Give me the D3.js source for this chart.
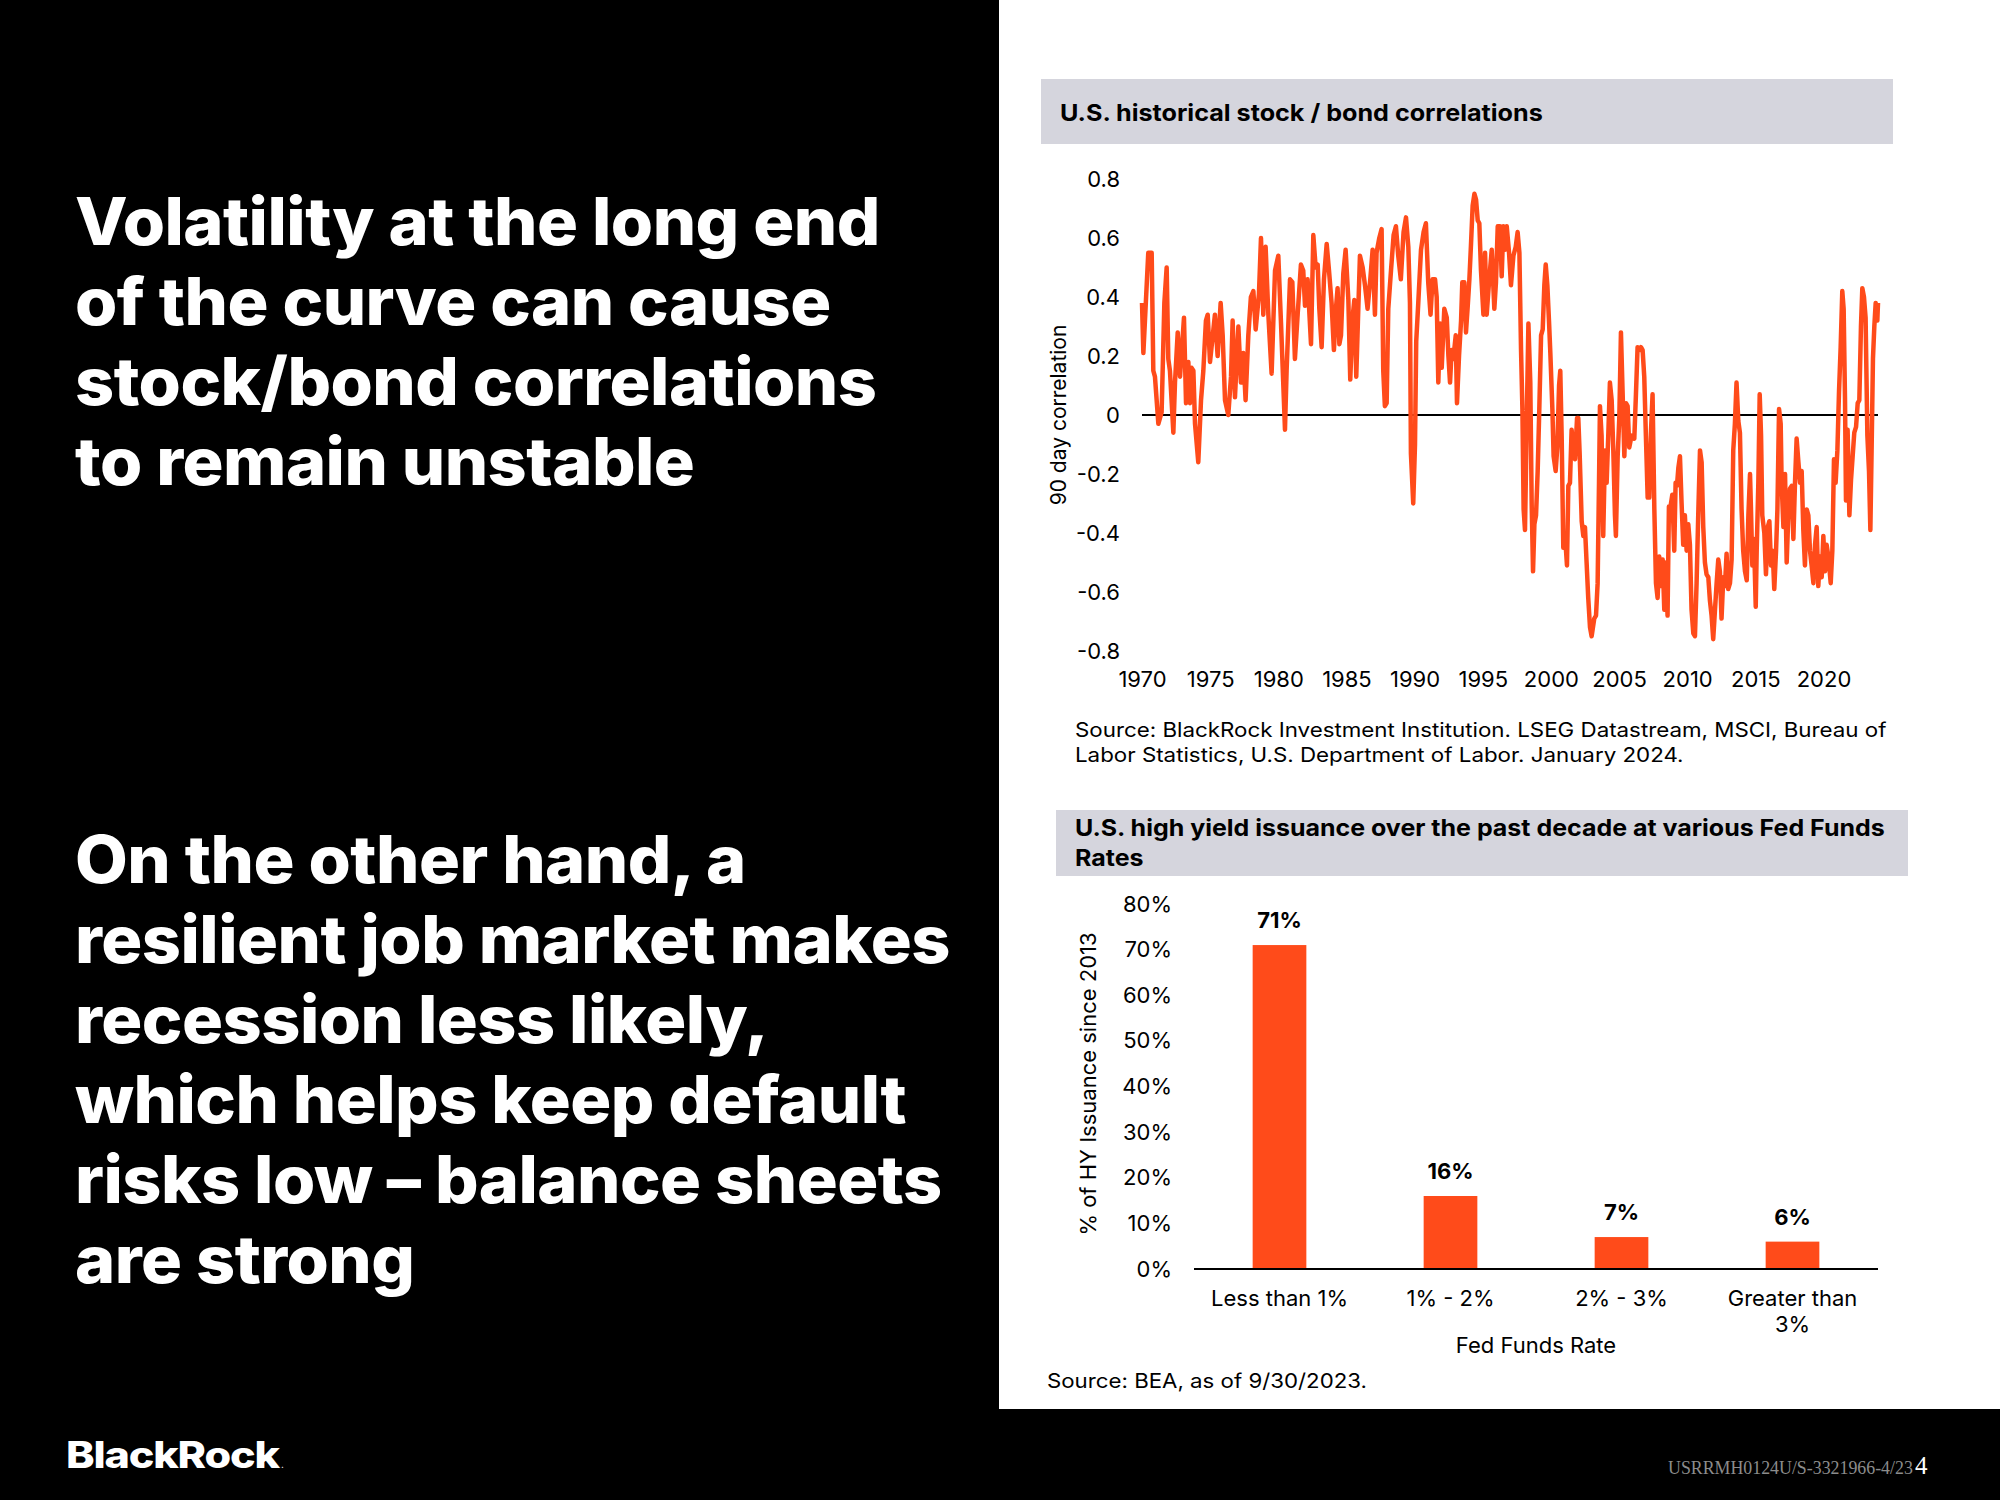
<!DOCTYPE html>
<html>
<head>
<meta charset="utf-8">
<script src="https://d3js.org/d3.v7.min.js"></script>
<style>
  body { margin: 0; background: #000; }
  svg { display: block; }
</style>
</head>
<body>
<svg id="slide" width="2000" height="1500"></svg>
<script>

// ---------- data: stock / bond 90 day correlation ----------
var corrYears = [
  1970.00,1970.10,1970.46,1970.71,1970.83,1970.95,1971.20,1971.44,1971.64,1971.81,1971.93,1972.05,1972.30,1972.42,1972.62,1972.79,
  1973.08,1973.23,1973.40,1973.52,1973.64,1973.77,1973.89,1974.13,1974.33,1974.50,1974.69,1974.82,1974.99,1975.35,1975.55,1975.77,
  1975.92,1976.09,1976.33,1976.53,1976.65,1976.82,1977.07,1977.26,1977.43,1977.60,1977.80,1977.99,1978.17,1978.34,1978.58,1978.73,
  1978.90,1979.07,1979.27,1979.51,1979.76,1980.00,1980.20,1980.49,
  1980.61,1980.86,1981.03,1981.22,1981.42,1981.66,1981.83,1981.96,1982.15,1982.40,1982.57,1982.74,1982.89,1983.01,1983.18,1983.35,
  1983.55,1983.72,1983.91,1984.08,1984.23,1984.35,1984.48,1984.60,1984.77,1984.94,1985.14,1985.28,1985.45,1985.58,1985.72,1985.87,
  1985.99,1986.19,1986.36,1986.55,1986.75,1986.92,1987.09,1987.21,1987.41,1987.58,1987.70,1987.82,1987.95,1988.07,1988.27,1988.46,
  1988.63,1988.80,1988.99,1989.19,1989.37,1989.54,1989.66,1989.73,1989.90,1990.03,1990.12,1990.27,1990.47,1990.66,1990.83,1991.00,
  1991.17,1991.32,
  1991.50,1991.62,1991.74,1991.87,1991.99,1992.18,1992.36,1992.48,1992.60,1992.72,1992.84,1993.02,1993.11,1993.26,1993.41,1993.50,
  1993.65,1993.77,1993.90,1994.02,1994.14,1994.26,1994.39,1994.51,1994.63,1994.75,1994.87,1995.05,1995.17,1995.29,1995.46,1995.66,
  1995.85,1995.97,1996.10,1996.27,1996.39,1996.51,1996.63,1996.76,1996.93,1997.07,1997.25,1997.42,1997.56,1997.69,1997.81,1997.91,
  1998.00,1998.10,1998.25,1998.35,1998.49,1998.59,1998.69,1998.79,1998.91,1999.03,1999.15,1999.28,1999.40,1999.52,1999.62,1999.74,
  1999.86,1999.96,2000.11,2000.20,2000.35,2000.47,2000.60,2000.69,2000.79,2000.91,2001.04,2001.18,2001.28,2001.40,2001.52,2001.65,
  2001.77,2001.92,2002.01,2002.11,2002.26,2002.38,
  2002.50,2002.62,2002.74,2002.87,2002.99,2003.18,2003.31,2003.43,2003.53,2003.60,2003.72,2003.84,2003.97,2004.09,2004.21,2004.33,
  2004.46,2004.58,2004.70,2004.77,2004.90,2005.02,2005.14,2005.26,2005.39,2005.51,2005.63,2005.75,2005.92,2006.12,2006.24,2006.36,
  2006.49,2006.61,2006.73,2006.85,2006.97,2007.10,2007.22,2007.34,2007.46,2007.59,2007.71,2007.83,2007.95,2008.07,2008.20,2008.32,
  2008.44,2008.56,2008.66,2008.78,2008.91,2009.05,2009.15,2009.25,2009.35,2009.47,2009.59,2009.71,2009.83,2009.96,2010.08,2010.20,
  2010.32,2010.45,2010.57,2010.69,2010.81,2010.94,2011.06,2011.18,2011.30,2011.42,2011.55,2011.67,2011.79,2011.91,2012.04,2012.16,
  2012.28,2012.40,2012.52,2012.65,2012.77,2012.89,2013.01,2013.14,2013.26,2013.38,2013.50,2013.62,2013.75,2013.87,2013.99,2014.11,
  2014.24,
  2014.37,2014.49,2014.61,2014.68,2014.78,2014.90,2015.03,2015.10,2015.22,2015.32,2015.42,2015.51,2015.66,2015.78,2015.91,2016.03,
  2016.15,2016.27,2016.39,2016.52,2016.62,2016.74,2016.86,2016.93,2017.06,2017.18,2017.30,2017.42,2017.54,2017.67,2017.79,2017.91,
  2018.03,2018.16,2018.28,2018.40,2018.52,2018.64,2018.77,2018.89,2019.01,2019.13,2019.26,2019.38,2019.50,2019.62,2019.74,2019.87,
  2019.99,2020.11,2020.23,2020.36,2020.53,2020.65,2020.77,2020.89,2021.02,2021.14,2021.26,2021.38,2021.48,2021.58,2021.65,2021.77,
  2021.90,2022.02,2022.14,2022.26,2022.39,2022.51,2022.63,2022.75,2022.85,2022.97,2023.09,2023.22,2023.34,2023.44,2023.53,2023.63,
  2023.73,2023.83,2023.95,2024.00
];
var corrValues = [
  0.38,0.21,0.55,0.55,0.15,0.13,-0.03,0.01,0.38,0.50,0.19,0.15,-0.06,0.11,0.28,0.13,
  0.33,0.04,0.18,0.04,0.16,0.15,-0.03,-0.16,0.05,0.15,0.32,0.34,0.18,0.34,0.20,0.38,
  0.27,0.05,0.00,0.13,0.32,0.06,0.30,0.11,0.21,0.05,0.27,0.40,0.42,0.29,0.41,0.60,
  0.34,0.57,0.34,0.14,0.49,0.54,0.31,-0.05,
  0.15,0.46,0.45,0.19,0.34,0.51,0.49,0.37,0.46,0.24,0.61,0.50,0.51,0.36,0.23,0.46,
  0.58,0.49,0.38,0.22,0.36,0.43,0.24,0.27,0.48,0.56,0.39,0.12,0.33,0.39,0.13,0.36,
  0.54,0.50,0.44,0.36,0.46,0.56,0.34,0.55,0.60,0.63,0.15,0.03,0.04,0.36,0.49,0.61,
  0.64,0.54,0.46,0.62,0.67,0.57,0.38,-0.13,-0.30,-0.10,0.25,0.38,0.56,0.62,0.65,0.45,
  0.34,0.46,
  0.46,0.40,0.11,0.31,0.16,0.36,0.33,0.20,0.11,0.22,0.19,0.27,0.04,0.20,0.32,0.45,
  0.45,0.28,0.37,0.46,0.58,0.71,0.75,0.73,0.66,0.65,0.49,0.34,0.55,0.34,0.45,0.56,
  0.36,0.45,0.64,0.64,0.47,0.64,0.56,0.64,0.55,0.44,0.54,0.57,0.62,0.55,0.22,0.02,
  -0.32,-0.39,0.04,0.31,0.11,-0.30,-0.53,-0.37,-0.34,-0.19,0.02,0.27,0.29,0.44,0.51,0.44,
  0.32,0.21,0.02,-0.14,-0.19,-0.11,0.10,0.15,-0.07,-0.45,-0.41,-0.51,-0.24,-0.23,-0.05,-0.11,
  -0.15,-0.01,-0.01,-0.13,-0.36,-0.41,
  -0.38,-0.50,-0.62,-0.72,-0.75,-0.69,-0.68,-0.57,-0.23,0.03,-0.07,-0.41,-0.12,-0.23,-0.07,0.11,
  0.05,-0.12,-0.34,-0.41,-0.14,-0.01,0.28,0.08,-0.14,0.04,0.03,-0.11,-0.07,-0.08,0.07,0.23,
  0.22,0.23,0.22,0.13,-0.07,-0.28,-0.28,-0.06,0.07,-0.32,-0.57,-0.62,-0.48,-0.58,-0.49,-0.66,
  -0.50,-0.68,-0.31,-0.31,-0.27,-0.46,-0.23,-0.24,-0.18,-0.14,-0.30,-0.44,-0.34,-0.46,-0.37,-0.44,
  -0.66,-0.74,-0.75,-0.57,-0.34,-0.12,-0.16,-0.38,-0.50,-0.54,-0.55,-0.63,-0.68,-0.76,-0.66,-0.57,
  -0.49,-0.53,-0.69,-0.55,-0.58,-0.47,-0.59,-0.57,-0.49,-0.12,-0.03,0.11,-0.02,-0.06,-0.32,-0.46,
  -0.53,
  -0.56,-0.34,-0.20,-0.32,-0.51,-0.42,-0.65,-0.46,-0.23,0.07,-0.07,-0.34,-0.40,-0.54,-0.38,-0.36,
  -0.51,-0.46,-0.59,-0.46,-0.32,0.02,-0.03,-0.23,-0.38,-0.20,-0.50,-0.34,-0.25,-0.24,-0.42,-0.23,
  -0.08,-0.16,-0.23,-0.19,-0.39,-0.51,-0.32,-0.34,-0.46,-0.51,-0.57,-0.44,-0.38,-0.58,-0.48,-0.55,
  -0.41,-0.53,-0.44,-0.48,-0.57,-0.46,-0.15,-0.23,-0.12,0.08,0.23,0.42,0.36,0.05,-0.29,-0.05,
  -0.34,-0.22,-0.14,-0.06,-0.04,0.04,0.05,0.30,0.43,0.40,0.33,-0.07,-0.19,-0.39,-0.12,0.19,
  0.30,0.38,0.32,0.38
];
var corrTicks = [0.8, 0.6, 0.4, 0.2, 0, -0.2, -0.4, -0.6, -0.8];
var yearTicks = [1970, 1975, 1980, 1985, 1990, 1995, 2000, 2005, 2010, 2015, 2020];

// ---------- data: HY issuance by fed funds rate ----------
var rateBuckets = ["Less than 1%", "1% - 2%", "2% - 3%", "Greater than 3%"];
var hyShare = [0.71, 0.16, 0.07, 0.06];
var shareTicks = [0, 0.1, 0.2, 0.3, 0.4, 0.5, 0.6, 0.7, 0.8];

// ---------- text ----------
var headlineTop = ["Volatility at the long end", "of the curve can cause", "stock/bond correlations", "to remain unstable"];
var headlineBottom = ["On the other hand, a", "resilient job market makes", "recession less likely,",
                      "which helps keep default", "risks low \u2013 balance sheets", "are strong"];

var orange = "#ff4b1a";
var band = "#d5d5dd";
var font = "Inter, 'Noto Sans', sans-serif";

var svg = d3.select("#slide");

// squeeze / stretch a start-anchored text horizontally to a given width
function fitX(sel, target) {
  sel.each(function () {
    var w = this.getComputedTextLength();
    var x = +this.getAttribute("x") || 0;
    var k = target / w;
    d3.select(this).attr("transform", `translate(${x},0) scale(${k},1) translate(${-x},0)`);
  });
}

// background panels
svg.append("rect").attr("width", 2000).attr("height", 1500).attr("fill", "#000");
svg.append("rect").attr("x", 999).attr("y", 0).attr("width", 1001).attr("height", 1409).attr("fill", "#fff");

// ---------- headline text ----------
var head = svg.append("g")
  .attr("font-family", "Inter, 'Open Sans', sans-serif")
  .attr("font-weight", 800)
  .attr("font-size", 66)
  .attr("letter-spacing", -0.5)
  .attr("fill", "#fff");

var topLines = head.selectAll(".top").data(headlineTop).join("text")
  .attr("class", "top").attr("x", 75).attr("y", (d, i) => 245 + i * 80).text(d => d);
var botLines = head.selectAll(".bot").data(headlineBottom).join("text")
  .attr("class", "bot").attr("x", 75).attr("y", (d, i) => 883 + i * 80).text(d => d);

var kHead = 805 / topLines.nodes()[0].getComputedTextLength();
head.selectAll("text").each(function () {
  fitX(d3.select(this), this.getComputedTextLength() * kHead);
});

// ---------- chart 1: correlations ----------
svg.append("rect").attr("x", 1041).attr("y", 79).attr("width", 852).attr("height", 65).attr("fill", band);
var t1 = svg.append("text").attr("x", 1060).attr("y", 121)
  .attr("font-family", font).attr("font-weight", 700).attr("font-size", 23)
  .text("U.S. historical stock / bond correlations");
fitX(t1, 483);

var x = d3.scaleLinear().domain([1970, 2024]).range([1142, 1878]);
var y = d3.scaleLinear().domain([-0.8, 0.8]).range([651, 179]);

var yAxis = svg.append("g")
  .attr("transform", "translate(1130,0)")
  .call(d3.axisLeft(y).tickValues(corrTicks).tickSize(0).tickPadding(10)
    .tickFormat(d => d === 0 ? "0" : d.toFixed(1)));
yAxis.select(".domain").remove();

var xAxis = svg.append("g")
  .attr("transform", `translate(0,${y(-0.8)})`)
  .call(d3.axisBottom(x).tickValues(yearTicks).tickSize(0).tickPadding(20).tickFormat(d3.format("d")));
xAxis.select(".domain").remove();

svg.selectAll(".tick text").attr("font-family", font).attr("font-size", 22).attr("fill", "#000");

svg.append("text")
  .attr("transform", `translate(1066,${y(0)}) rotate(-90)`)
  .attr("text-anchor", "middle")
  .attr("font-family", font).attr("font-size", 21)
  .text("90 day correlation");

svg.append("line")
  .attr("x1", x(1970)).attr("x2", x(2024))
  .attr("y1", y(0)).attr("y2", y(0))
  .attr("stroke", "#000").attr("stroke-width", 2);

var corr = corrYears.map((d, i) => ({ year: d, value: corrValues[i] }));
svg.append("path")
  .datum(corr)
  .attr("fill", "none")
  .attr("stroke", orange)
  .attr("stroke-width", 4.5)
  .attr("stroke-linejoin", "round")
  .attr("d", d3.line().x(d => x(d.year)).y(d => y(d.value)));

var src1 = svg.append("g").attr("font-family", font).attr("font-size", 20);
var s1a = src1.append("text").attr("x", 1075).attr("y", 737)
  .text("Source: BlackRock Investment Institution. LSEG Datastream, MSCI, Bureau of");
var s1b = src1.append("text").attr("x", 1075).attr("y", 762)
  .text("Labor Statistics, U.S. Department of Labor. January 2024.");
var kSrc = 812 / s1a.node().getComputedTextLength();
fitX(s1a, 812);
fitX(s1b, s1b.node().getComputedTextLength() * kSrc);

// ---------- chart 2: HY issuance ----------
svg.append("rect").attr("x", 1056).attr("y", 810).attr("width", 852).attr("height", 66).attr("fill", band);
var t2 = svg.append("g").attr("font-family", font).attr("font-weight", 700).attr("font-size", 23);
var t2a = t2.append("text").attr("x", 1075).attr("y", 836)
  .text("U.S. high yield issuance over the past decade at various Fed Funds");
var t2b = t2.append("text").attr("x", 1075).attr("y", 866).text("Rates");
var kT2 = 810 / t2a.node().getComputedTextLength();
fitX(t2a, 810);
fitX(t2b, t2b.node().getComputedTextLength() * kT2);

var xb = d3.scaleBand().domain(rateBuckets).range([1194, 1878]).paddingInner(0.686).paddingOuter(0.343);
var yb = d3.scaleLinear().domain([0, 0.8]).range([1269, 904]);

var ybAxis = svg.append("g")
  .attr("transform", "translate(1182,0)")
  .call(d3.axisLeft(yb).tickValues(shareTicks).tickSize(0).tickPadding(10)
    .tickFormat(d => Math.round(d * 100) + "%"));
ybAxis.select(".domain").remove();
ybAxis.selectAll("text").attr("font-family", font).attr("font-size", 22).attr("fill", "#000");

var bars = hyShare.map((v, i) => ({ cat: rateBuckets[i], value: v }));

svg.append("g").selectAll("rect").data(bars).join("rect")
  .attr("x", d => xb(d.cat))
  .attr("y", d => yb(d.value))
  .attr("width", xb.bandwidth())
  .attr("height", d => yb(0) - yb(d.value))
  .attr("fill", orange);

svg.append("g").selectAll("text").data(bars).join("text")
  .attr("x", d => xb(d.cat) + xb.bandwidth() / 2)
  .attr("y", d => yb(d.value) - 17)
  .attr("text-anchor", "middle")
  .attr("font-family", font).attr("font-weight", 700).attr("font-size", 22)
  .text(d => Math.round(d.value * 100) + "%");

var xbAxis = svg.append("g")
  .attr("transform", `translate(0,${yb(0)})`)
  .call(d3.axisBottom(xb).tickSize(0).tickPadding(21));
xbAxis.select(".domain").remove();
xbAxis.selectAll("text").attr("font-family", font).attr("font-size", 22).attr("fill", "#000")
  .call(wrap, 165);

svg.append("line")
  .attr("x1", 1194).attr("x2", 1878)
  .attr("y1", yb(0)).attr("y2", yb(0))
  .attr("stroke", "#000").attr("stroke-width", 2);

svg.append("text")
  .attr("x", 1536).attr("y", 1353)
  .attr("text-anchor", "middle")
  .attr("font-family", font).attr("font-size", 22)
  .text("Fed Funds Rate");

svg.append("text")
  .attr("transform", `translate(1096,1084) rotate(-90)`)
  .attr("text-anchor", "middle")
  .attr("font-family", font).attr("font-size", 22)
  .text("% of HY Issuance since 2013");

var s2 = svg.append("text").attr("x", 1047).attr("y", 1388)
  .attr("font-family", font).attr("font-size", 20)
  .text("Source: BEA, as of 9/30/2023.");
fitX(s2, 320);

function wrap(text, width) {
  text.each(function () {
    var t = d3.select(this);
    var words = t.text().split(/\s+/).reverse();
    var yy = t.attr("y"), dy = parseFloat(t.attr("dy"));
    var line = [], n = 0, word;
    var tspan = t.text(null).append("tspan").attr("x", 0).attr("y", yy).attr("dy", dy + "em");
    while ((word = words.pop())) {
      line.push(word);
      tspan.text(line.join(" "));
      if (tspan.node().getComputedTextLength() > width && line.length > 1) {
        line.pop();
        tspan.text(line.join(" "));
        line = [word];
        n += 1;
        tspan = t.append("tspan").attr("x", 0).attr("y", yy)
          .attr("dy", (n * 1.18 + dy) + "em").text(word);
      }
    }
  });
}

// ---------- footer ----------
var logo = svg.append("text").attr("x", 66).attr("y", 1468)
  .attr("font-family", "Inter, sans-serif").attr("font-weight", 800).attr("font-size", 37)
  .attr("letter-spacing", -1)
  .attr("fill", "#fff").text("BlackRock");
fitX(logo, 213);
svg.append("text").attr("x", 281).attr("y", 1468)
  .attr("font-family", "Inter, sans-serif").attr("font-size", 10).attr("fill", "#fff").text(".");

var code = svg.append("text").attr("x", 1668).attr("y", 1474)
  .attr("font-family", "'Liberation Serif', serif").attr("font-size", 19).attr("fill", "#8c8c8c")
  .text("USRRMH0124U/S-3321966-4/23");
fitX(code, 245);
svg.append("text").attr("x", 1915).attr("y", 1474)
  .attr("font-family", "'Liberation Serif', serif").attr("font-size", 25).attr("fill", "#fff")
  .text("4");

</script>
</body>
</html>
